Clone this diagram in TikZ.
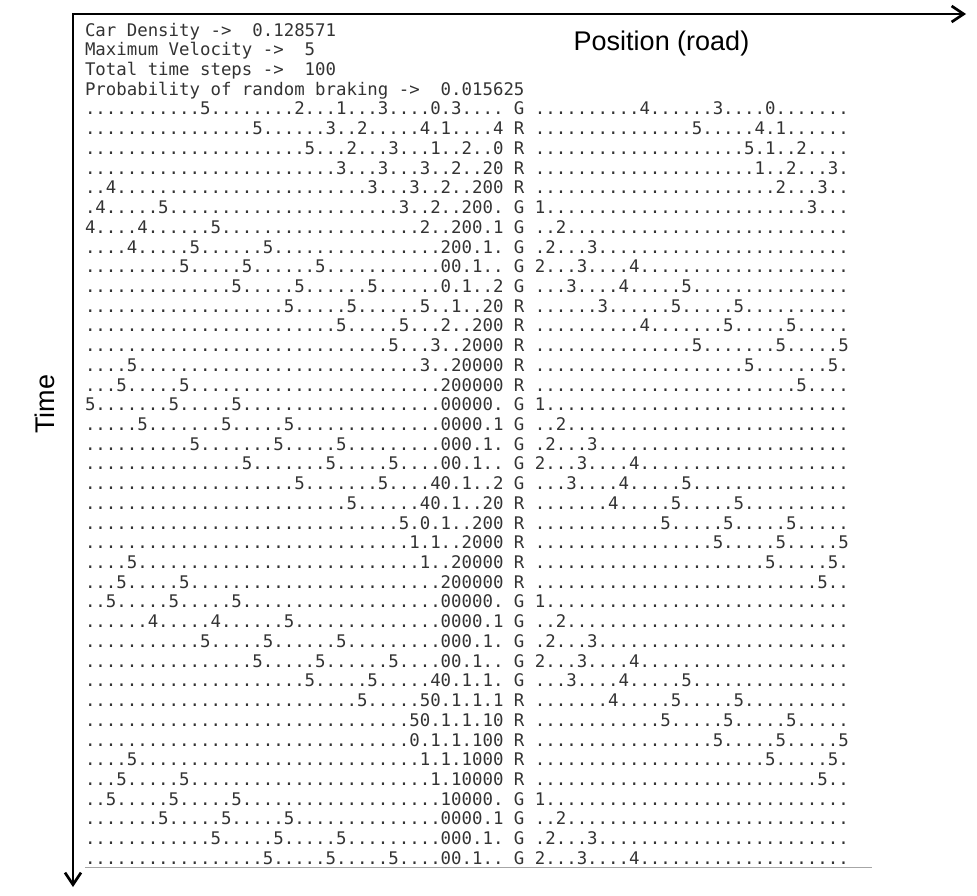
\documentclass[tikz,border=0pt]{standalone}
\usepackage{fontspec}
\setmainfont{Liberation Sans}
\setsansfont{Liberation Sans}
\setmonofont{DejaVu Sans Mono}
\usetikzlibrary{arrows.meta}
\newcommand{\dts}[1]{\ifnum#1>0 .\expandafter\dts\expandafter{\the\numexpr#1-1\relax}\fi}
\newcommand{\rowskip}{19.72}
\newcommand{\rowtop}{36.1}

\tikzset{
  roadrow/.style={anchor=base west, inner sep=0pt, text=black!80,
    font=\ttfamily\fontsize{8.69pt}{9.86pt}\selectfont},
  axislabel/.style={inner sep=0pt, text=black,
    font=\sffamily\fontsize{13.5pt}{16pt}\selectfont},
  axisline/.style={line width=1.35pt, line join=miter,
    {Straight Barb[length=6pt,width=8pt]}-{Straight Barb[length=6pt,width=8pt]}}
}

\begin{document}
\begin{tikzpicture}[x=0.5pt,y=-0.5pt]
  \useasboundingbox (0,0) rectangle (977,895);
  % axes
  \coordinate (origin) at (73,14);
  \coordinate (roadend) at (966,14);
  \coordinate (timeend) at (73,887);
  \draw[axisline] (timeend) -- (origin) -- (roadend);
  \node[axislabel, anchor=base] (roadlabel) at (661.5,50.5) {Position (road)};
  \node[axislabel, rotate=90] (timelabel) at (45,404) {Time};

  % header
  \node[roadrow] (hdr1) at (84.6,\rowtop) {Car Density ->\ \ 0.128571};
  \node[roadrow] (hdr2) at (84.6,\rowtop+\rowskip) {Maximum Velocity ->\ \ 5};
  \node[roadrow] (hdr3) at (84.6,\rowtop+2*\rowskip) {Total time steps ->\ \ 100};
  \node[roadrow] (hdr4) at (84.6,\rowtop+3*\rowskip) {Probability of random braking ->\ \ 0.015625};

  % one row per time step: left road / light / right road
  \foreach \lft/\lgt/\rgt [count=\n] in {
    \dts{11}5\dts{8}2\dts{3}1\dts{3}3\dts{4}0\dts{1}3\dts{4}/G/\dts{10}4\dts{6}3\dts{4}0\dts{7},
    \dts{16}5\dts{6}3\dts{2}2\dts{5}4\dts{1}1\dts{4}4/R/\dts{15}5\dts{5}4\dts{1}1\dts{6},
    \dts{21}5\dts{3}2\dts{3}3\dts{3}1\dts{2}2\dts{2}0/R/\dts{20}5\dts{1}1\dts{2}2\dts{4},
    \dts{24}3\dts{3}3\dts{3}3\dts{2}2\dts{2}20/R/\dts{21}1\dts{2}2\dts{3}3\dts{1},
    \dts{2}4\dts{24}3\dts{3}3\dts{2}2\dts{2}200/R/\dts{23}2\dts{3}3\dts{2},
    \dts{1}4\dts{5}5\dts{22}3\dts{2}2\dts{2}200\dts{1}/G/1\dts{25}3\dts{3},
    4\dts{4}4\dts{6}5\dts{19}2\dts{2}200\dts{1}1/G/\dts{2}2\dts{27},
    \dts{4}4\dts{5}5\dts{6}5\dts{16}200\dts{1}1\dts{1}/G/\dts{1}2\dts{3}3\dts{24},
    \dts{9}5\dts{5}5\dts{6}5\dts{11}00\dts{1}1\dts{2}/G/2\dts{3}3\dts{4}4\dts{20},
    \dts{14}5\dts{5}5\dts{6}5\dts{6}0\dts{1}1\dts{2}2/G/\dts{3}3\dts{4}4\dts{5}5\dts{15},
    \dts{19}5\dts{5}5\dts{6}5\dts{2}1\dts{2}20/R/\dts{6}3\dts{6}5\dts{5}5\dts{10},
    \dts{24}5\dts{5}5\dts{3}2\dts{2}200/R/\dts{10}4\dts{7}5\dts{5}5\dts{5},
    \dts{29}5\dts{3}3\dts{2}2000/R/\dts{15}5\dts{7}5\dts{5}5,
    \dts{4}5\dts{27}3\dts{2}20000/R/\dts{20}5\dts{7}5\dts{1},
    \dts{3}5\dts{5}5\dts{24}200000/R/\dts{25}5\dts{4},
    5\dts{7}5\dts{5}5\dts{19}00000\dts{1}/G/1\dts{29},
    \dts{5}5\dts{7}5\dts{5}5\dts{14}0000\dts{1}1/G/\dts{2}2\dts{27},
    \dts{10}5\dts{7}5\dts{5}5\dts{9}000\dts{1}1\dts{1}/G/\dts{1}2\dts{3}3\dts{24},
    \dts{15}5\dts{7}5\dts{5}5\dts{4}00\dts{1}1\dts{2}/G/2\dts{3}3\dts{4}4\dts{20},
    \dts{20}5\dts{7}5\dts{4}40\dts{1}1\dts{2}2/G/\dts{3}3\dts{4}4\dts{5}5\dts{15},
    \dts{25}5\dts{6}40\dts{1}1\dts{2}20/R/\dts{7}4\dts{5}5\dts{5}5\dts{10},
    \dts{30}5\dts{1}0\dts{1}1\dts{2}200/R/\dts{12}5\dts{5}5\dts{5}5\dts{5},
    \dts{31}1\dts{1}1\dts{2}2000/R/\dts{17}5\dts{5}5\dts{5}5,
    \dts{4}5\dts{27}1\dts{2}20000/R/\dts{22}5\dts{5}5\dts{1},
    \dts{3}5\dts{5}5\dts{24}200000/R/\dts{27}5\dts{2},
    \dts{2}5\dts{5}5\dts{5}5\dts{19}00000\dts{1}/G/1\dts{29},
    \dts{6}4\dts{5}4\dts{6}5\dts{14}0000\dts{1}1/G/\dts{2}2\dts{27},
    \dts{11}5\dts{5}5\dts{6}5\dts{9}000\dts{1}1\dts{1}/G/\dts{1}2\dts{3}3\dts{24},
    \dts{16}5\dts{5}5\dts{6}5\dts{4}00\dts{1}1\dts{2}/G/2\dts{3}3\dts{4}4\dts{20},
    \dts{21}5\dts{5}5\dts{5}40\dts{1}1\dts{1}1\dts{1}/G/\dts{3}3\dts{4}4\dts{5}5\dts{15},
    \dts{26}5\dts{5}50\dts{1}1\dts{1}1\dts{1}1/R/\dts{7}4\dts{5}5\dts{5}5\dts{10},
    \dts{31}50\dts{1}1\dts{1}1\dts{1}10/R/\dts{12}5\dts{5}5\dts{5}5\dts{5},
    \dts{31}0\dts{1}1\dts{1}1\dts{1}100/R/\dts{17}5\dts{5}5\dts{5}5,
    \dts{4}5\dts{27}1\dts{1}1\dts{1}1000/R/\dts{22}5\dts{5}5\dts{1},
    \dts{3}5\dts{5}5\dts{23}1\dts{1}10000/R/\dts{27}5\dts{2},
    \dts{2}5\dts{5}5\dts{5}5\dts{19}10000\dts{1}/G/1\dts{29},
    \dts{7}5\dts{5}5\dts{5}5\dts{14}0000\dts{1}1/G/\dts{2}2\dts{27},
    \dts{12}5\dts{5}5\dts{5}5\dts{9}000\dts{1}1\dts{1}/G/\dts{1}2\dts{3}3\dts{24},
    \dts{17}5\dts{5}5\dts{5}5\dts{4}00\dts{1}1\dts{2}/G/2\dts{3}3\dts{4}4\dts{20}}
  {
    \pgfmathsetmacro{\yy}{\rowtop+\rowskip*(\n+3)}
    \node[roadrow] (row\n) at (84.6,\yy) {\lft\ \lgt\ \rgt};
  }

  % rule under the last row
  \coordinate (rulea) at (85,867);
  \coordinate (ruleb) at (872,867);
  \draw[gray!70, line width=0.5pt] (rulea) -- (ruleb);
\end{tikzpicture}
\end{document}
